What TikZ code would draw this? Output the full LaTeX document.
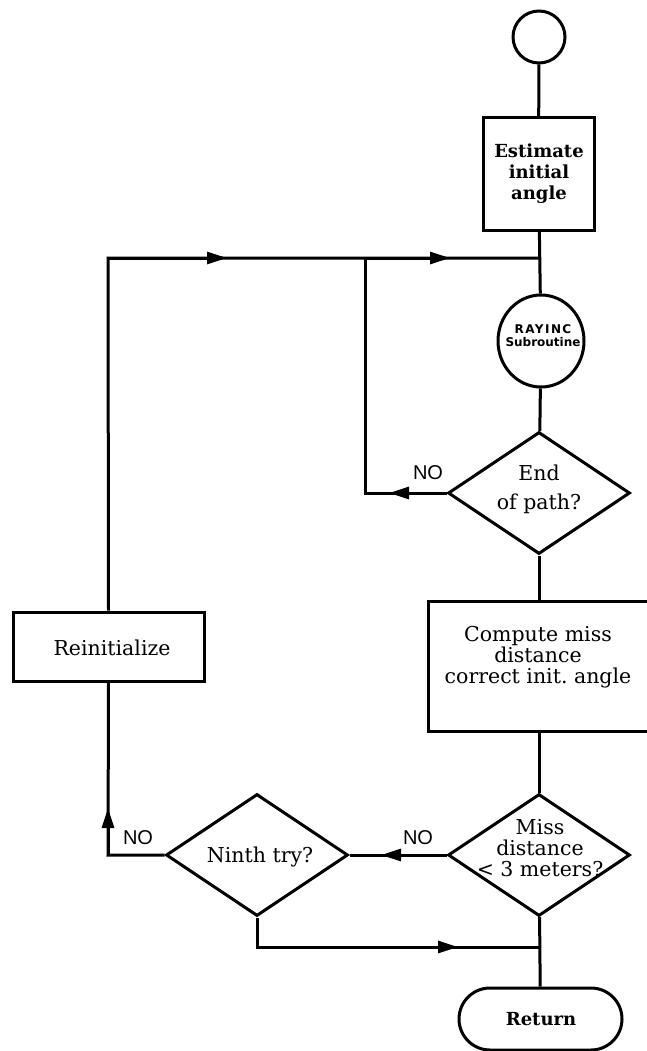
\documentclass[tikz,border=0pt]{standalone}
\usepackage{fontspec}
\setmainfont{DejaVu Serif}
\newfontfamily\nofont{Liberation Sans}
\newfontfamily\subfont{DejaVu Sans}
\usetikzlibrary{shapes.geometric,shapes.misc,arrows.meta}
\begin{document}
\begin{tikzpicture}[x=1pt,y=-1pt, line width=3pt,
  box/.style={draw, rectangle, inner sep=0pt},
  dia/.style={draw, diamond, inner sep=0pt, minimum width=182pt, minimum height=122pt},
  txt/.style={inner sep=0pt, align=center, font=\fontsize{20.5}{21}\selectfont},
  btxt/.style={inner sep=0pt, align=center, font=\bfseries\fontsize{18}{21}\selectfont},
  lbl/.style={inner sep=0pt, font=\nofont\fontsize{20}{20}\selectfont},
  arr/.style={-{Triangle[length=20pt,width=12pt]}},
  ]
\useasboundingbox (0,0) rectangle (646,1051);
% nodes
\node[circle, draw, minimum size=52pt, inner sep=0pt] (start) at (539,37) {};
\node[box, minimum width=111pt, minimum height=112pt] (est) at (538.5,174) {};
\node[btxt] (estT) at (539,174) {Estimate\\initial\\angle};
\node[ellipse, draw, minimum width=86pt, minimum height=92pt, inner sep=0pt] (ray) at (541,341) {};
\node[inner sep=0pt, align=center, font=\subfont\bfseries\fontsize{12}{13}\selectfont] (rayT) at (543,336) {{\addfontfeatures{LetterSpace=12}RAYINC}\\Subroutine};
\node[dia] (end) at (539,493) {};
\node[txt] (endT) at (539,489) {End\\[8pt]of path?};
\node[box, minimum width=222pt, minimum height=130pt] (comp) at (539,666) {};
\node[txt] (compT) at (538,657) {Compute miss\\distance\\correct init.\ angle};
\node[dia] (miss) at (539,855) {};
\node[txt] (missT) at (540,848) {Miss\\distance\\< 3 meters?};
\node[dia] (ninth) at (257,855) {};
\node[txt] (ninthT) at (260,857) {Ninth try?};
\node[box, minimum width=191pt, minimum height=69pt] (reinit) at (108.5,646.5) {};
\node[txt] (reinitT) at (112,648) {Reinitialize};
\node[draw, rounded rectangle, minimum width=163pt, minimum height=62pt, inner sep=0pt] (ret) at (540.5,1019) {};
\node[btxt] (retT) at (541,1019) {Return};
\node[lbl] (no1) at (428,473) {NO};
\node[lbl] (no2) at (418,838) {NO};
\node[lbl] (no3) at (138,838) {NO};
% coordinates
\coordinate (jTop) at (539,258);
\coordinate (jMid) at (365,258);
\coordinate (cTL) at (108,258);
\coordinate (a1) at (227,258);
\coordinate (a2) at (450,258);
\coordinate (cEnd) at (365,493);
\coordinate (a3) at (389,493);
\coordinate (cBL) at (108,855);
\coordinate (a4) at (108,808);
\coordinate (a5) at (381,855);
\coordinate (cBR) at (257,947);
\coordinate (a6) at (458,947);
\coordinate (jBot) at (539,947);
% main line
\draw (start) -- (est);
\draw (est) -- (ray);
\draw (ray) -- (end);
\draw (end) -- (comp);
\draw (comp) -- (miss);
\draw (miss) -- (ret);
% loops (continuous lines)
\draw (ninth.west) -- (cBL) -- (reinit.south);
\draw (reinit.north) -- (cTL) -- (jTop);
\draw (end.west) -- (cEnd) -- (jMid);
\draw (miss.west) -- (ninth.east);
\draw (ninth.south) -- (cBR) -- (jBot);
% arrowheads on the lines
\draw[arr] (cBL) -- (a4);
\draw[arr] (cTL) -- (a1);
\draw[arr] (jMid) -- (a2);
\draw[arr] (end.west) -- (a3);
\draw[arr] (miss.west) -- (a5);
\draw[arr] (cBR) -- (a6);
\end{tikzpicture}
\end{document}
